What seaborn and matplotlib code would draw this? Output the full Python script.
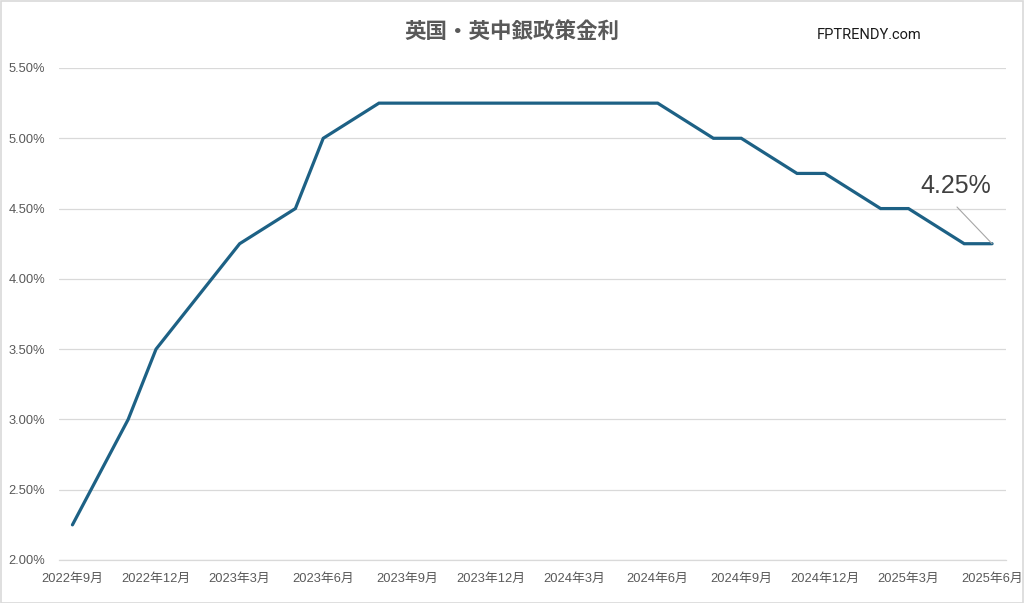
import matplotlib
matplotlib.use("Agg")
import matplotlib.pyplot as plt
import matplotlib.ticker as mticker
from matplotlib.patches import Rectangle
import seaborn as sns
import pandas as pd

# Data: BoE policy rate decisions (meeting month, rate %)
months = ["2022-09", "2022-11", "2022-12", "2023-02", "2023-03", "2023-05", "2023-06",
          "2023-08", "2023-09", "2023-11", "2023-12", "2024-02", "2024-03", "2024-05",
          "2024-06", "2024-08", "2024-09", "2024-11", "2024-12", "2025-02", "2025-03",
          "2025-05", "2025-06"]
rates = [2.25, 3.00, 3.50, 4.00, 4.25, 4.50, 5.00,
         5.25, 5.25, 5.25, 5.25, 5.25, 5.25, 5.25,
         5.25, 5.00, 5.00, 4.75, 4.75, 4.50, 4.50,
         4.25, 4.25]
tick_labels = ["2022年9月", "2022年12月", "2023年3月", "2023年6月", "2023年9月", "2023年12月",
               "2024年3月", "2024年6月", "2024年9月", "2024年12月", "2025年3月", "2025年6月"]
yticks = [2.0, 2.5, 3.0, 3.5, 4.0, 4.5, 5.0, 5.5]

sns.set_theme(style="white")
plt.rcParams['font.family'] = ['Liberation Sans', 'Noto Sans CJK JP', 'DejaVu Sans']

per = pd.PeriodIndex(months, freq="M")
base = per[0]
idx = [(p - base).n for p in per]
df = pd.DataFrame({"m": idx, "rate": rates})

fig = plt.figure(figsize=(10.24, 6.03), dpi=100)
ax = fig.add_axes([58.5 / 1024, 1 - 560 / 603, (1006 - 58.5) / 1024, (560 - 68) / 603])

sns.lineplot(data=df, x="m", y="rate", ax=ax, color="#1D6185", linewidth=2.3,
             solid_capstyle="round", solid_joinstyle="miter")

ax.set_xlim(-0.5, 33.5)
ax.set_ylim(2.0, 5.5)
ax.set_yticks(yticks)
ax.yaxis.set_major_formatter(mticker.FuncFormatter(lambda v, p: f"{v:.2f}%"))
ax.grid(axis="y", color="#D9D9D9", linewidth=0.9)
ax.set_axisbelow(True)

label_pos = list(range(0, 34, 3))
ax.set_xticks(label_pos)
ax.set_xticklabels(tick_labels)
ax.set_xticks([p - 0.5 for p in label_pos], minor=True)
ax.tick_params(axis="x", which="major", length=0, pad=9, labelsize=9.3, labelcolor="#595959")
ax.tick_params(axis="x", which="minor", length=4, color="#D9D9D9", width=0.9, direction="out")
ax.tick_params(axis="y", length=0, pad=9.5, labelsize=9.3, labelcolor="#595959")
ax.set_xlabel("")
ax.set_ylabel("")
for s in ["top", "right", "left"]:
    ax.spines[s].set_visible(False)
ax.spines["bottom"].set_color("#D9D9D9")
ax.spines["bottom"].set_linewidth(0.9)

# Annotation for last value
last_x, last_y = idx[-1], rates[-1]
ax.annotate("", xy=(last_x, last_y), xytext=(957 / 1024, 1 - 207 / 603),
            textcoords="figure fraction",
            arrowprops=dict(arrowstyle="-", color="#A6A6A6", linewidth=0.8,
                            shrinkA=0, shrinkB=0))
fig.text(956 / 1024, 1 - 186 / 603, f"{last_y:.2f}%", ha="center", va="center",
         fontsize=18, color="#404040")

fig.text(512 / 1024, 1 - 31 / 603, "英国・英中銀政策金利", ha="center", va="center",
         fontsize=15.5, fontweight="bold", color="#595959",
         family=['Noto Sans CJK JP', 'DejaVu Sans'])
fig.text(869 / 1024, 1 - 35 / 603, "FPTRENDY.com", ha="center", va="center",
         fontsize=10.5, color="#1A1A1A", family=['Roboto', 'DejaVu Sans'])

fig.add_artist(Rectangle((0.5 / 1024, 0.5 / 603), 1 - 1.5 / 1024, 1 - 1.5 / 603,
                         transform=fig.transFigure, fill=False, edgecolor="#D9D9D9",
                         linewidth=1.2))

fig.savefig("out.png", dpi=100)
